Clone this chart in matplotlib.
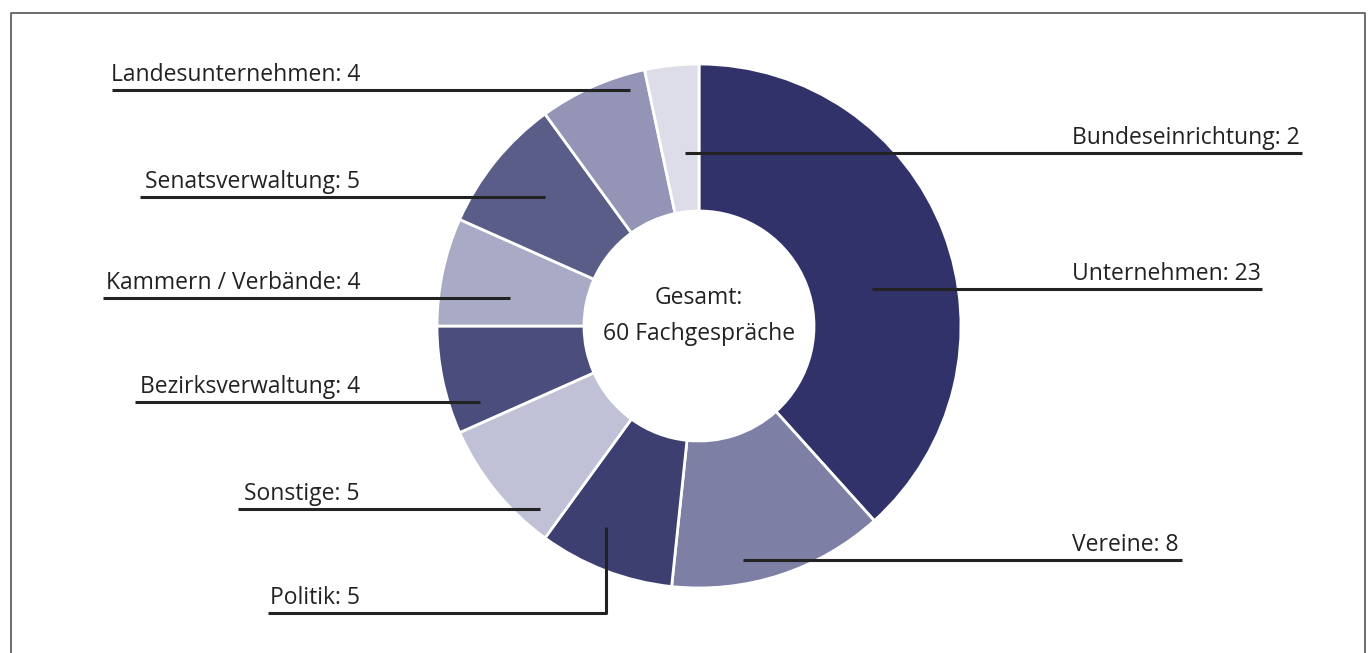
import numpy as np
import matplotlib.pyplot as plt

plt.rcParams['font.family'] = ['Open Sans', 'DejaVu Sans']

# Daten
labels = ['Unternehmen', 'Vereine', 'Politik', 'Sonstige', 'Bezirksverwaltung',
          'Kammern / Verbände', 'Senatsverwaltung', 'Landesunternehmen', 'Bundeseinrichtung']
values = [23, 8, 5, 5, 4, 4, 5, 4, 2]
colors = ['#31326a', '#7d7fa5', '#3d3f70', '#c0c1d6', '#4b4d7c',
          '#a9aac6', '#5b5d89', '#9394b6', '#dcdde8']
center_lines = ['Gesamt:', '60 Fachgespräche']

W, H = 1372, 653
fig = plt.figure(figsize=(W / 100, H / 100), dpi=100)
ax = fig.add_axes([0, 0, 1, 1])

cx, cy, r_out, r_in = 699, 326, 262, 115

# y-Achse invertiert -> Bildkoordinaten; startangle/counterclock entsprechend
ax.pie(values, colors=colors, center=(cx, cy), radius=r_out, startangle=-90,
       counterclock=True, wedgeprops=dict(width=r_out - r_in, edgecolor='white', linewidth=2))
ax.set_xlim(0, W)
ax.set_ylim(H, 0)
ax.set_aspect('auto')
ax.axis('off')

ax.text(cx, 298, center_lines[0], ha='center', va='center', fontsize=16.5, color='#222222')
ax.text(cx, 334, center_lines[1], ha='center', va='center', fontsize=16.5, color='#222222')

# Beschriftungen: (Text-x, Linien-y, Linien-Anfang, Linien-Ende, Ausrichtung, Knick-y)
lab_pos = {
    'Unternehmen': (1072, 289, 872, 1262, 'left', None),
    'Vereine': (1072, 560, 743, 1182, 'left', None),
    'Politik': (360, 613, 268, 606, 'right', 527),
    'Sonstige': (360, 509, 238, 540, 'right', None),
    'Bezirksverwaltung': (360, 402, 135, 480, 'right', None),
    'Kammern / Verbände': (360, 298, 103, 510, 'right', None),
    'Senatsverwaltung': (360, 197, 140, 545, 'right', None),
    'Landesunternehmen': (360, 90, 112, 630, 'right', None),
    'Bundeseinrichtung': (1072, 153, 685, 1302, 'left', None),
}
for lab, val in zip(labels, values):
    tx, ly, x0, x1, ha, knick = lab_pos[lab]
    xs, ys = [x0, x1], [ly, ly]
    if knick is not None:
        xs = [x0, x1, x1]
        ys = [ly, ly, knick]
    ax.plot(xs, ys, color='#222222', lw=2.2, solid_capstyle='butt')
    ax.text(tx, ly - 3, f'{lab}: {val}', ha=ha, va='bottom', fontsize=16.5, color='#222222')

# Rahmen
ax.plot([11, 11, 1365, 1365], [H + 5, 13, 13, H + 5], color='#555555', lw=1.2, clip_on=False)

plt.savefig('out.png', dpi=100)
